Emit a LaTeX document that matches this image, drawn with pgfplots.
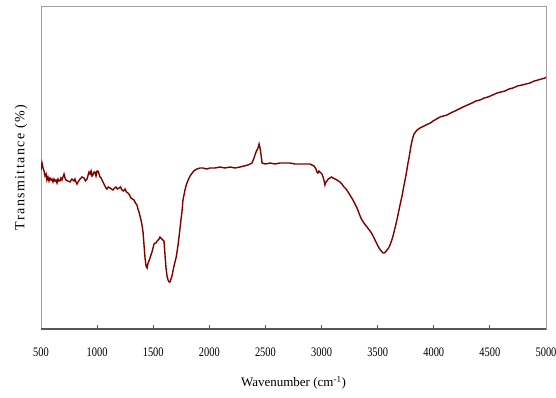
\documentclass[border=0pt]{standalone}
\usepackage{pgfplots}
\pgfplotsset{compat=1.18}
\usepackage{fontspec}
\setmainfont{Liberation Serif}
\newfontfamily\tickfont[FakeStretch=0.8]{Liberation Serif}
\newfontfamily\ylabfont[LetterSpace=10]{Liberation Serif}
\definecolor{ftir}{RGB}{128,0,0}
\definecolor{frame}{RGB}{160,160,160}
\definecolor{baxis}{RGB}{85,85,85}
\pgfplotstableread{
w y
500 159
509 166
518 161
527 158
536 153
545 155
553 149
562 152
571 148
580 151
590 149
598 150
607 147
616 150
625 148
634 149
643 146
652 150
660 148
669 148
678 151
687 149
696 152
705 155
714 151
723 149
740 148
758 147
776 150
794 148
803 150
812 147
821 145
830 147
848 150
865 152
883 151
896 148
910 150
920 154
928 157
937 155
946 158
955 153
963 154
972 157
981 157
990 153
999 158
1008 158
1017 155
1026 152
1035 151
1044 149
1052 147
1061 145
1070 143
1079 141
1088 140
1100 142
1115 141
1128 140
1142 139
1155 141
1168 142
1180 140
1195 141
1208 142
1222 139
1235 138
1249 140
1262 137
1275 136
1289 134
1302 131
1315 130
1329 129
1342 126
1355 124
1364 120
1373 117
1382 113
1391 109
1400 104
1409 97
1418 84
1427 71
1436 63
1445 61
1454 66
1462 68
1471 71
1480 74
1489 77
1498 81
1507 85
1516 86
1525 86
1534 88
1543 89
1552 90
1560 92
1569 91
1578 90
1587 89
1596 88
1605 74
1614 61
1623 53
1632 49
1641 47
1650 47
1658 50
1667 53
1676 58
1685 63
1694 67
1703 71
1712 77
1721 84
1730 92
1739 101
1748 110
1756 117
1765 129
1774 134
1783 139
1792 143
1801 146
1815 150
1828 153
1841 155
1854 157
1872 159
1890 160
1917 161
1944 161
1975 160
2006 161
2050 161
2095 162
2140 161
2184 162
2230 161
2273 162
2310 163
2345 164
2363 165
2380 166
2398 171
2407 174
2416 177
2425 179
2434 181
2443 185
2452 181
2461 174
2470 166
2500 165
2541 166
2585 165
2630 166
2675 166
2719 166
2764 165
2808 165
2852 165
2897 165
2915 164
2933 163
2950 160
2959 157
2968 156
2977 158
2986 157
2995 156
3004 155
3013 152
3021 149
3030 144
3039 147
3048 148
3060 150
3075 151
3090 152
3102 151
3120 150
3138 149
3150 148
3164 147
3182 145
3200 142
3218 140
3236 137
3258 133
3280 129
3298 125
3316 121
3330 117
3343 113
3360 109
3378 106
3391 104
3405 102
3418 100
3432 98
3445 96
3459 93
3472 90
3485 87
3498 84
3512 81
3525 79
3539 77
3548 76
3557 76
3570 77
3583 79
3597 81
3610 84
3623 88
3637 93
3650 99
3663 105
3677 112
3690 119
3703 126
3717 133
3730 141
3744 149
3757 157
3770 166
3779 171
3788 177
3797 183
3806 188
3815 192
3824 195
3837 197
3851 199
3864 200
3877 201
3895 202
3913 203
3931 204
3949 205
3970 206
3993 208
4025 210
4055 212
4085 213
4118 214
4150 216
4189 218
4225 220
4260 222
4300 224
4341 226
4375 228
4412 229
4450 231
4483 232
4525 234
4563 236
4600 237
4635 238
4670 240
4706 241
4745 243
4786 244
4820 245
4857 246
4895 248
4929 249
4960 250
4991 251
5000 252
}\spectrum
\begin{document}
\begin{tikzpicture}
\useasboundingbox (-41pt,-68pt) rectangle (515pt,329pt);
\begin{axis}[
  at={(0pt,0pt)}, anchor=south west,
  scale only axis,
  width=505pt, height=323pt,
  xmin=500, xmax=5000, ymin=0, ymax=323,
  xtick={500,1000,...,5000},
  xticklabels={500,1000,1500,2000,2500,3000,3500,4000,4500,5000},
  ytick=\empty,
  xtick pos=bottom,
  tick align=inside,
  major tick length=4pt,
  tick style={baxis, line width=0.8pt},
  axis line style={frame, line width=0.8pt},
  ticklabel style={font=\tickfont\fontsize{13}{13}\selectfont},
  xticklabel style={yshift=-15pt},
  xlabel={Wavenumber (cm\textsuperscript{-1})},
  xlabel style={font=\fontsize{13}{13}\selectfont, yshift=-13pt},
  ylabel={Transmittance (\%)},
  ylabel style={font=\ylabfont\fontsize{14}{14}\selectfont, yshift=10pt},
]
\draw[baxis, line width=1.3pt] (rel axis cs:0,0) -- (rel axis cs:1,0);
\addplot[ftir, line width=1.4pt, mark=none] table[x=w, y=y] {\spectrum};
\end{axis}
\end{tikzpicture}
\end{document}
